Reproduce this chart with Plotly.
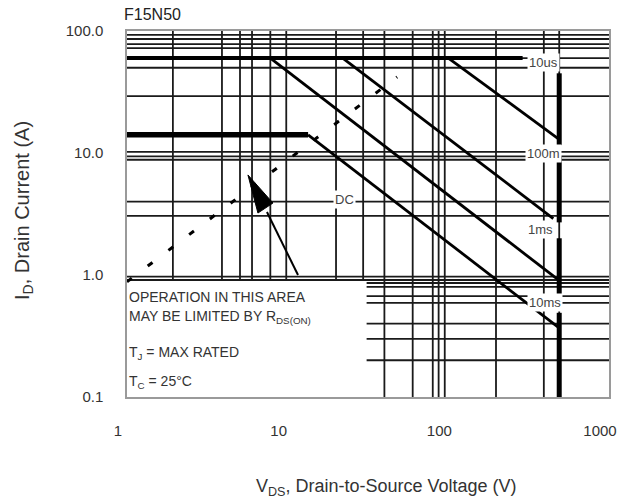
import numpy as np
import plotly.graph_objects as go

# ---------------- data (V in volts, I in amperes) ----------------
# grid lines as drawn in the original (irregular scan)
grid_v_upper = [1.93, 3.9, 5.05, 6.0, 7.8, 9.8, 20, 29.5]          # span I 0.91..100
grid_v_full = [40, 60, 80, 87, 95, 198, 393, 490]                    # span I 0.1..100
grid_i_full = [93, 86, 78, 72.5, 60, 50, 29.3, 10.2, 9.4, 8.8, 4.0, 3.05, 0.97, 0.91]
grid_i_lower = [0.86, 0.80, 0.67, 0.59, 0.40, 0.30, 0.20]           # span V 31..1000
upper_i_range = [0.91, 100]
lower_v_range = [31, 1000]

# SOA boundary curves
pulse_limit_v = [1, 290]
pulse_limit_i = [60, 60]
dc_flat_v = [1, 13.4]
dc_flat_i = [14.1, 14.1]
line_100us_v = [100, 480]
line_100us_i = [60, 13.2]
line_1ms_v = [22, 450]
line_1ms_i = [60, 2.9]
line_10ms_v = [7.8, 480]
line_10ms_i = [60, 0.92]
line_dc_v = [13.4, 480]
line_dc_i = [14.1, 0.375]
bvdss_v = 490
bvdss_segments = [(45, 11.6), (9.3, 2.7), (2.0, 0.65), (0.49, 0.1)]
rds_v = [1, 48]
rds_i = [0.88, 42]

# scan artefacts
blob_v = [5.66, 8.10, 6.53, 5.66]
blob_i = [6.61, 3.89, 3.22, 6.61]
stray_v = [7.43, 11.6]
stray_i = [3.28, 1.0]

# curve labels
label_text = ["10us", "100m", "1ms", "10ms", "DC"]
label_v = [390, 393, 377, 399, 22.7]
label_i = [55, 10, 2.38, 0.60, 4.12]

x_tickvals = [1, 10, 100, 1000]
x_ticktext = ["1", "10", "100", "1000"]
y_tickvals = [0.1, 1, 10, 100]
y_ticktext = ["0.1", "1.0", "10.0", "100.0"]

FONT = "Liberation Sans, Arial, sans-serif"
GRID = "#1a1a1a"

fig = go.Figure()


def seg_trace(xs, ys, width, color="black", dash=None):
    fig.add_trace(go.Scatter(x=xs, y=ys, mode="lines", hoverinfo="skip",
                             showlegend=False,
                             line=dict(color=color, width=width, dash=dash)))


# grid
gx, gy = [], []
for v in grid_v_upper:
    gx += [v, v, None]; gy += [upper_i_range[0], upper_i_range[1], None]
for v in grid_v_full:
    gx += [v, v, None]; gy += [0.1, 100, None]
for i in grid_i_full:
    gx += [1, 1000, None]; gy += [i, i, None]
for i in grid_i_lower:
    gx += [lower_v_range[0], lower_v_range[1], None]; gy += [i, i, None]
seg_trace(gx, gy, 1.8, GRID)

# boundaries
seg_trace(pulse_limit_v, pulse_limit_i, 4)
seg_trace(dc_flat_v, dc_flat_i, 5.5)
for xs, ys in [(line_100us_v, line_100us_i), (line_1ms_v, line_1ms_i),
               (line_10ms_v, line_10ms_i), (line_dc_v, line_dc_i)]:
    seg_trace(xs, ys, 2.8)
bx, by = [], []
for a, b in bvdss_segments:
    bx += [bvdss_v, bvdss_v, None]; by += [a, b, None]
seg_trace(bx, by, 5)
seg_trace(rds_v, rds_i, 3, dash="6px,20px")

# artefacts
fig.add_trace(go.Scatter(x=blob_v, y=blob_i, mode="lines", fill="toself",
                         fillcolor="black", line=dict(color="black", width=1),
                         hoverinfo="skip", showlegend=False))
seg_trace(stray_v, stray_i, 2)

annotations = []
for t, v, i in zip(label_text, label_v, label_i):
    annotations.append(dict(x=np.log10(v), y=np.log10(i), xref="x", yref="y",
                            text=t, showarrow=False, bgcolor="white", borderpad=1,
                            font=dict(family=FONT, size=13, color="#444")))

note_lines = ["OPERATION IN THIS AREA",
              "MAY BE LIMITED BY R<sub>DS(ON)</sub>",
              "T<sub>J</sub> = MAX RATED",
              "T<sub>C</sub> = 25°C"]
note_ypx = [297, 317, 353, 382]
for t, ypx in zip(note_lines, note_ypx):
    annotations.append(dict(x=0, xref="paper", y=(397 - ypx) / 366, yref="paper",
                            xanchor="left", yanchor="middle", text=t, showarrow=False,
                            font=dict(family=FONT, size=14, color="#333")))

annotations.append(dict(x=(122 - 127) / 482, y=(397 - 14) / 366, xref="paper", yref="paper",
                        xanchor="left", yanchor="middle", text="F15N50", showarrow=False,
                        font=dict(family=FONT, size=16, color="#222")))
annotations.append(dict(x=(386 - 127) / 482, y=(397 - 487) / 366, xref="paper", yref="paper",
                        xanchor="center", yanchor="middle",
                        text="V<sub>DS</sub>, Drain-to-Source Voltage (V)", showarrow=False,
                        font=dict(family=FONT, size=18, color="#333")))
annotations.append(dict(x=(23 - 127) / 482, y=(397 - 211) / 366, xref="paper", yref="paper",
                        xanchor="center", yanchor="middle", textangle=-90,
                        text="I<sub>D</sub>, Drain Current (A)", showarrow=False,
                        font=dict(family=FONT, size=20, color="#333")))

fig.update_layout(
    width=641, height=504,
    margin=dict(l=127, r=32, t=31, b=107),
    paper_bgcolor="white", plot_bgcolor="white",
    showlegend=False,
    annotations=annotations,
    xaxis=dict(type="log", range=[0, 3], showgrid=False, zeroline=False,
               showline=True, mirror=True, linecolor="#9a9a9a", linewidth=1.5,
               ticks="", tickvals=x_tickvals, ticktext=x_ticktext,
               ticklabelstandoff=19, ticklabelshift=-9,
               tickfont=dict(family=FONT, size=15, color="#333")),
    yaxis=dict(type="log", range=[-1, 2], showgrid=False, zeroline=False,
               showline=True, mirror=True, linecolor="#9a9a9a", linewidth=1.5,
               ticks="", tickvals=y_tickvals, ticktext=y_ticktext,
               ticklabelstandoff=19,
               tickfont=dict(family=FONT, size=15, color="#333")),
)

fig.write_html("out.html")
